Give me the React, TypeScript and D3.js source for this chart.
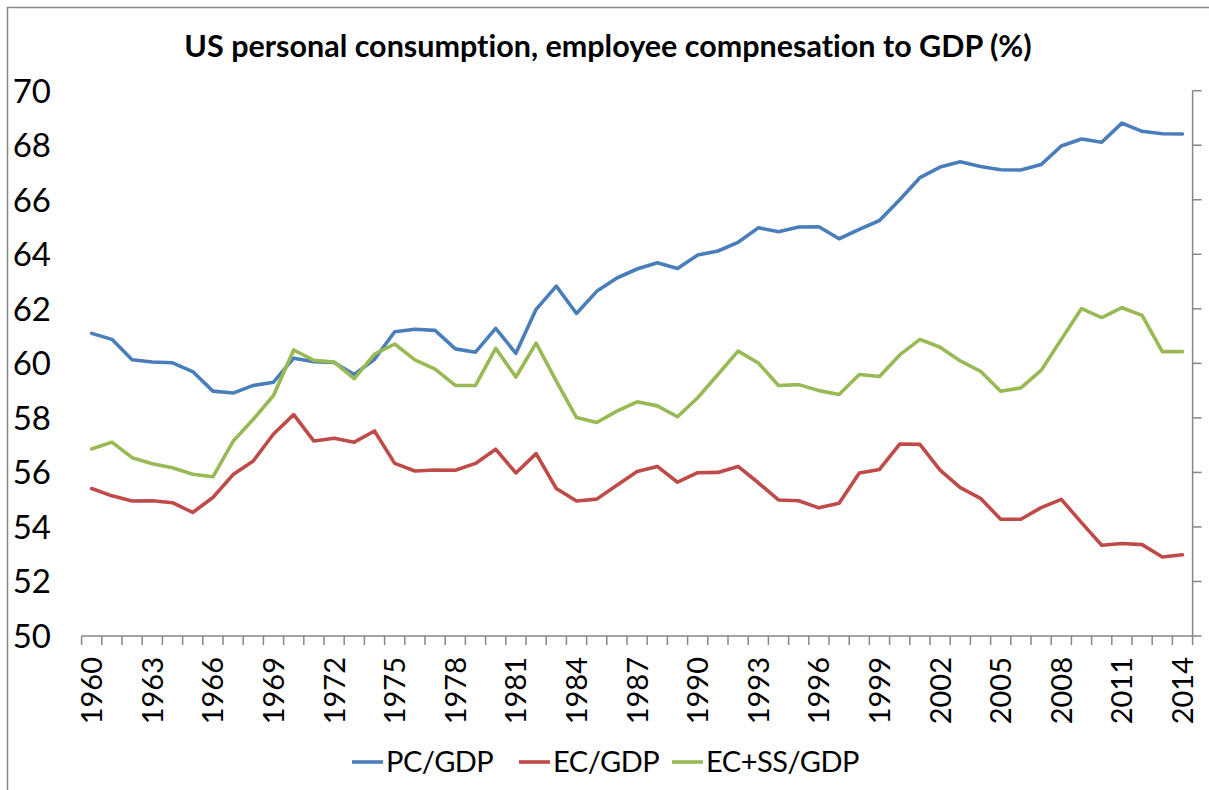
import React from "react"
import * as d3 from "d3"

// categories
const years: number[] = d3.range(1960, 2015)
const yTicks: number[] = [50, 52, 54, 56, 58, 60, 62, 64, 66, 68, 70]
const labelYears: number[] = d3.range(1960, 2015, 3)

// series values (% of GDP)
const pcGdp: number[] = [
	61.1, 60.88, 60.13, 60.05, 60.02, 59.7, 58.98, 58.91, 59.19, 59.31,
	60.19, 60.06, 60.03, 59.59, 60.15, 61.16, 61.25, 61.21, 60.53, 60.41,
	61.28, 60.37, 61.98, 62.83, 61.83, 62.64, 63.13, 63.46, 63.69, 63.48,
	63.97, 64.12, 64.44, 64.97, 64.83, 65.0, 65.01, 64.57, 64.91, 65.24,
	66.0, 66.81, 67.2, 67.39, 67.22, 67.1, 67.09, 67.29, 67.97, 68.23,
	68.11, 68.81, 68.51, 68.42, 68.41,
]
const ecGdp: number[] = [
	55.41, 55.14, 54.95, 54.96, 54.89, 54.53, 55.08, 55.92, 56.42, 57.41,
	58.12, 57.15, 57.25, 57.11, 57.52, 56.33, 56.05, 56.09, 56.08, 56.33,
	56.85, 55.98, 56.69, 55.41, 54.95, 55.02, 55.53, 56.03, 56.22, 55.64,
	55.99, 56.0, 56.22, 55.62, 54.99, 54.96, 54.7, 54.87, 55.98, 56.11,
	57.04, 57.03, 56.08, 55.44, 55.05, 54.28, 54.28, 54.71, 55.01, 54.16,
	53.33, 53.39, 53.35, 52.9, 52.98,
]
const ecSsGdp: number[] = [
	56.86, 57.11, 56.54, 56.32, 56.17, 55.93, 55.84, 57.14, 57.95, 58.82,
	60.49, 60.11, 60.05, 59.44, 60.34, 60.71, 60.13, 59.79, 59.19, 59.19,
	60.55, 59.5, 60.74, 59.35, 58.01, 57.83, 58.25, 58.59, 58.44, 58.04,
	58.74, 59.59, 60.45, 60.01, 59.19, 59.22, 59.0, 58.86, 59.59, 59.52,
	60.31, 60.88, 60.59, 60.09, 59.71, 58.98, 59.1, 59.74, 60.88, 62.01,
	61.68, 62.04, 61.76, 60.43, 60.43,
]

const seriesNames: string[] = ["PC/GDP", "EC/GDP", "EC+SS/GDP"]
const seriesColors: string[] = ["#4A7EBB", "#BE4B48", "#98B954"]
const seriesValues: number[][] = [pcGdp, ecGdp, ecSsGdp]

const WIDTH = 1209
const HEIGHT = 790
const FONT = "Lato, 'Open Sans', sans-serif"
const AXIS = "#868686"

const App = () => {
	const margin = { left: 81.6, right: 1192.6, top: 90.7, bottom: 636 }

	const x = d3
		.scaleBand<number>()
		.domain(years)
		.range([margin.left, margin.right])
		.paddingInner(0)
		.paddingOuter(0)
	const cx = (yr: number) => (x(yr) as number) + x.bandwidth() / 2

	const y = d3.scaleLinear().domain([50, 70]).range([margin.bottom, margin.top])

	const line = d3
		.line<number>()
		.x((_, i) => cx(years[i]))
		.y(d => y(d))

	// category boundaries for the tick marks
	const boundaries = years.map(yr => x(yr) as number).concat([margin.right])

	// legend layout
	const legendX = [352, 519, 672]
	const legendY = 762

	return (
		<svg
			width={WIDTH}
			height={HEIGHT}
			style={{ position: "absolute", left: 0, top: 0, background: "#fff", fontVariantLigatures: "none" }}
		>
			<rect x={0} y={0} width={WIDTH} height={HEIGHT} fill="#fff" />
			<rect
				x={7.5}
				y={7.5}
				width={WIDTH + 20}
				height={HEIGHT + 20}
				fill="none"
				stroke={AXIS}
				strokeWidth={1.5}
			/>

			{/* Title */}
			<text
				x={608}
				y={57}
				textAnchor="middle"
				fontFamily={FONT}
				fontWeight={700}
				fontSize={30.5}
				fill="#000"
			>
				US personal consumption, employee compnesation to GDP (%)
			</text>

			{/* Y labels */}
			{yTicks.map(t => (
				<text
					key={t}
					x={51}
					y={y(t)}
					dy="0.36em"
					textAnchor="end"
					fontFamily={FONT}
					fontSize={33}
					fill="#000"
				>
					{t}
				</text>
			))}

			{/* right axis line with outward ticks */}
			<line
				x1={margin.right}
				x2={margin.right}
				y1={margin.top}
				y2={margin.bottom}
				stroke={AXIS}
				strokeWidth={1.5}
			/>
			{yTicks.map(t => (
				<line
					key={t}
					x1={margin.right}
					x2={margin.right + 9}
					y1={y(t)}
					y2={y(t)}
					stroke={AXIS}
					strokeWidth={1.5}
				/>
			))}

			{/* x axis */}
			<line
				x1={margin.left}
				x2={margin.right}
				y1={margin.bottom}
				y2={margin.bottom}
				stroke={AXIS}
				strokeWidth={1.5}
			/>
			{boundaries.map((b, i) => (
				<line
					key={i}
					x1={b}
					x2={b}
					y1={margin.bottom}
					y2={margin.bottom + 9}
					stroke={AXIS}
					strokeWidth={1.5}
				/>
			))}
			{labelYears.map(yr => (
				<text
					key={yr}
					transform={`translate(${cx(yr)},657) rotate(-90)`}
					dy="0.36em"
					textAnchor="end"
					fontFamily={FONT}
					fontSize={29}
					fill="#000"
				>
					{yr}
				</text>
			))}

			{/* series lines */}
			{seriesValues.map((vals, i) => (
				<path
					key={seriesNames[i]}
					d={line(vals) as string}
					fill="none"
					stroke={seriesColors[i]}
					strokeWidth={3.6}
					strokeLinejoin="round"
					strokeLinecap="round"
				/>
			))}

			{/* legend */}
			{seriesNames.map((name, i) => (
				<g key={name} transform={`translate(${legendX[i]},${legendY})`}>
					<line x1={0} x2={31} y1={0} y2={0} stroke={seriesColors[i]} strokeWidth={3.6} />
					<text
						x={34}
						y={0}
						dy="0.36em"
						fontFamily={FONT}
						fontSize={29}
						letterSpacing={-0.5}
						fill="#000"
					>
						{name}
					</text>
				</g>
			))}
		</svg>
	)
}

export default App
